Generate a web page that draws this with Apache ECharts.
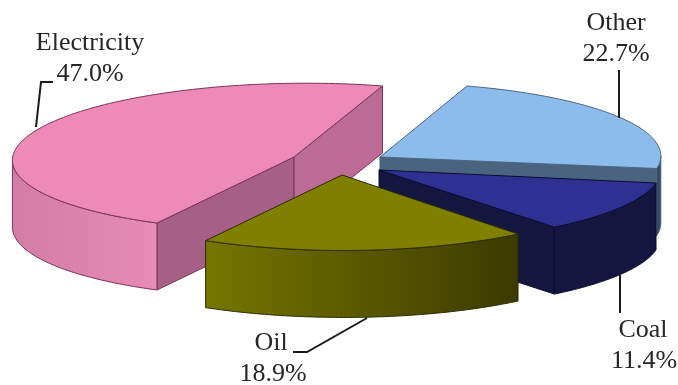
<!DOCTYPE html>
<html>
<head>
<meta charset="utf-8">
<style>html,body{margin:0;padding:0;background:#fff}#chart{width:678px;height:385px}</style>
<script src="https://cdn.jsdelivr.net/npm/echarts@6/dist/echarts.min.js"></script>
</head>
<body>
<div id="chart"></div>
<script>
// Shares of the total, in percent, listed back to front so nearer slices paint over farther ones.
var categories = ['Other', 'Coal', 'Electricity', 'Oil'];
var shares = [22.7, 11.4, 47.0, 18.9];

// Projected slice geometry, in the 678x385 axis space: the slice tip, the vector along
// its first straight edge, and the vector a quarter turn clockwise from that edge.
var tips = [[380, 157], [379, 170], [294, 157], [342, 175]];
var firstEdges = [[87, -71], [277, 13], [-137, 66], [176, 59]];
var quarterEdges = [[267, 22], [-51, 72], [-246, -33], [-218, 47]];
var wallDepth = 67;

// Paint for each slice.
var topColors = ['#8cbcec', '#2e3192', '#ee8ab8', '#7f7f00'];
var edgeColors = ['#4a6480', '#0b0c30', '#7a3558', '#2c2c00'];
var firstFaceColors = ['#4a6480', '#14163f', '#a65f86', '#5a5a00'];
var lastFaceColors = ['#4a6480', '#14163f', '#bb6b96', '#5a5a00'];
var wallStops = [
  ['#344a60', '#344a60'],
  ['#14163f', '#14163f'],
  ['#d27ca6', '#e88bb5'],
  ['#767600', '#3c3a00']
];

// Callout text centres and leader polylines.
var nameAnchors = [[616, 23], [643, 330], [90, 43], [271, 343]];
var shareAnchors = [[616, 54], [644, 361], [90, 74], [273, 374]];
var leaders = [
  [[619, 70], [619, 118]],
  [[620, 275], [620, 313]],
  [[53, 82], [41, 82], [36, 127]],
  [[293, 352], [307, 352], [367, 318]]
];

var LABEL_FONT = '26px "Liberation Serif", "Times New Roman", serif';
var chart = echarts.init(document.getElementById('chart'), null, { renderer: 'canvas' });

function renderSlice(params, api) {
  var i = params.dataIndex;
  var share = api.value(1);
  var sweep = share / 100 * Math.PI * 2;
  var tip = tips[i], a = firstEdges[i], b = quarterEdges[i];

  function rimPoint(t) {
    return [tip[0] + Math.cos(t) * a[0] + Math.sin(t) * b[0],
            tip[1] + Math.cos(t) * a[1] + Math.sin(t) * b[1]];
  }
  function px(p, drop) { return api.coord([p[0], p[1] + (drop || 0)]); }

  var children = [];
  function polygon(points, fill, stroke) {
    children.push({
      type: 'polygon',
      shape: { points: points },
      style: { fill: fill, stroke: stroke, lineWidth: 1, lineJoin: 'round' }
    });
  }
  function flatFace(p, q, fill) {
    if (q[0] >= p[0]) return;
    polygon([px(p), px(q), px(q, wallDepth), px(p, wallDepth)], fill, edgeColors[i]);
  }

  // Sample the rim, then keep only the stretch whose curved wall faces the viewer.
  var steps = 120, rim = [], j;
  for (j = 0; j <= steps; j++) rim.push(rimPoint(sweep * j / steps));
  var front = [];
  for (j = 0; j < steps; j++) {
    if (rim[j + 1][0] < rim[j][0]) {
      if (!front.length) front.push(rim[j]);
      front.push(rim[j + 1]);
    }
  }

  // Straight walls along the two cut edges.
  flatFace(tip, rim[0], firstFaceColors[i]);
  flatFace(rim[steps], tip, lastFaceColors[i]);

  // Curved outer wall, shaded from left to right.
  if (front.length > 1) {
    var outline = front.map(function (p) { return px(p); })
      .concat(front.slice().reverse().map(function (p) { return px(p, wallDepth); }));
    polygon(outline, new echarts.graphic.LinearGradient(0, 0, 1, 0, [
      { offset: 0, color: wallStops[i][0] },
      { offset: 1, color: wallStops[i][1] }
    ]), edgeColors[i]);
  }

  // Top face.
  polygon([px(tip)].concat(rim.map(function (p) { return px(p); })), topColors[i], edgeColors[i]);

  // Leader line and the two-line callout.
  children.push({
    type: 'polyline',
    shape: { points: leaders[i].map(function (p) { return px(p); }) },
    style: { fill: null, stroke: '#1a1a1a', lineWidth: 2 }
  });
  [[categories[i], nameAnchors[i]], [share.toFixed(1) + '%', shareAnchors[i]]].forEach(function (row) {
    var c = px(row[1]);
    children.push({
      type: 'text',
      style: { text: row[0], x: c[0], y: c[1], fill: '#262626', font: LABEL_FONT, align: 'center', verticalAlign: 'middle' }
    });
  });

  return { type: 'group', children: children };
}

chart.setOption({
  animation: false,
  backgroundColor: '#ffffff',
  grid: { left: 0, right: 0, top: 0, bottom: 0 },
  xAxis: { type: 'value', min: 0, max: 678, show: false },
  yAxis: { type: 'value', min: 0, max: 385, inverse: true, show: false },
  series: [{
    type: 'custom',
    coordinateSystem: 'cartesian2d',
    renderItem: renderSlice,
    clip: false,
    data: shares.map(function (s, i) { return [i, s]; })
  }]
});
</script>
</body>
</html>
